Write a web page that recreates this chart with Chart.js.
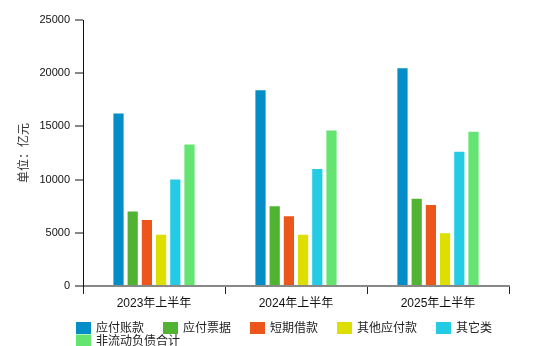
<!DOCTYPE html>
<html>
<head>
<meta charset="utf-8">
<script src="https://cdn.jsdelivr.net/npm/chart.js@4/dist/chart.umd.min.js"></script>
<style>
  html, body { margin: 0; padding: 0; background: #fff; }
  #wrap { width: 560px; height: 346px; position: relative; }
</style>
</head>
<body>
<div id="wrap"><canvas id="c" width="560" height="346"></canvas></div>
<script>
// Periods on the category axis
const periods = ['2023年上半年', '2024年上半年', '2025年上半年'];

// Liability items (亿元)
const seriesNames = ['应付账款', '应付票据', '短期借款', '其他应付款', '其它类', '非流动负债合计'];
const accountsPayable   = [16300, 18500, 20550];
const notesPayable      = [7100, 7600, 8300];
const shortTermLoans    = [6300, 6650, 7700];
const otherPayables     = [4900, 4900, 5050];
const otherItems        = [10100, 11100, 12700];
const nonCurrentTotal   = [13400, 14700, 14600];

const palette = ['#058DC7', '#50B432', '#ED561B', '#DDDF00', '#24CBE5', '#64E572'];
const seriesValues = [accountsPayable, notesPayable, shortTermLoans, otherPayables, otherItems, nonCurrentTotal];

const FONT = '"Liberation Sans", "Noto Sans CJK SC", sans-serif';

// Legend drawn under the plot: fixed left start, tight rows
const bottomLegend = {
  id: 'bottomLegend',
  afterDraw(chart) {
    const ctx = chart.ctx;
    const startX = 76, maxX = 520, boxW = 15, boxH = 12, gap = 5, itemPad = 19;
    let x = startX, y = 322;
    ctx.save();
    ctx.font = '12px ' + FONT;
    ctx.textBaseline = 'middle';
    chart.data.datasets.forEach(ds => {
      const tw = ctx.measureText(ds.label).width;
      const w = boxW + gap + tw;
      if (x + w > maxX) { x = startX; y += 12.5; }
      ctx.fillStyle = ds.backgroundColor;
      ctx.fillRect(x, y, boxW, boxH);
      ctx.fillStyle = '#222';
      ctx.fillText(ds.label, x + boxW + gap, y + boxH / 2 + 1);
      x += w + itemPad;
    });
    ctx.restore();
  }
};

new Chart(document.getElementById('c'), {
  type: 'bar',
  data: {
    labels: periods,
    datasets: seriesNames.map((name, i) => ({
      label: name,
      data: seriesValues[i],
      backgroundColor: palette[i],
      borderColor: 'rgba(255,255,255,0.85)',
      borderWidth: 1,
      categoryPercentage: 0.6,
      barPercentage: 0.86
    }))
  },
  options: {
    responsive: false,
    animation: false,
    devicePixelRatio: 1,
    layout: { padding: { left: 0, right: 51, top: 20, bottom: 0 } },
    plugins: {
      legend: { display: false },
      tooltip: { enabled: false }
    },
    scales: {
      x: {
        afterFit(scale) { scale.height = 60; },
        grid: {
          offset: true,
          drawOnChartArea: false,
          drawTicks: true,
          tickLength: 8,
          color: '#222',
          lineWidth: 1
        },
        border: { display: true, color: '#888', width: 2 },
        ticks: {
          color: '#111',
          font: { family: FONT, size: 12 },
          padding: 2,
          maxRotation: 0
        }
      },
      y: {
        min: 0,
        max: 25000,
        afterFit(scale) { scale.width = 83; },
        ticks: {
          stepSize: 5000,
          color: '#111',
          font: { family: FONT, size: 11 },
          padding: 5,
          callback: v => String(v)
        },
        grid: {
          drawOnChartArea: false,
          drawTicks: true,
          tickLength: 8,
          color: '#888',
          lineWidth: 2
        },
        border: { display: true, color: '#111', width: 1 },
        title: {
          display: true,
          text: '单位：亿元',
          color: '#333',
          font: { family: FONT, size: 12 },
          padding: { top: 17, bottom: 0 }
        }
      }
    }
  },
  plugins: [bottomLegend]
});
</script>
</body>
</html>
